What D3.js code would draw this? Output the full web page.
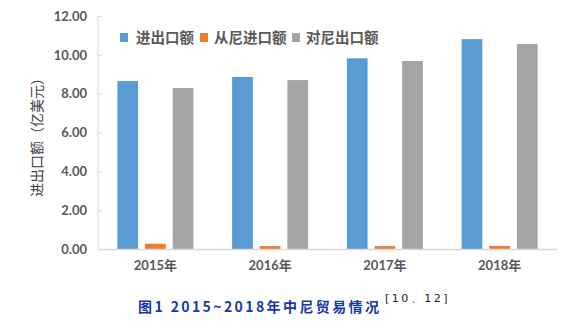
<!DOCTYPE html>
<html><head><meta charset="utf-8">
<script src="https://cdn.jsdelivr.net/npm/d3@7/dist/d3.min.js"></script>
<style>body{margin:0;background:#fff}</style>
</head><body><svg id="c" width="565" height="332"></svg>
<script>
const categories = ["2015年", "2016年", "2017年", "2018年"];
const seriesNames = ["进出口额", "从尼进口额", "对尼出口额"];
const totalTrade = [8.65, 8.86, 9.82, 10.81];
const importsFromNepal = [0.27, 0.15, 0.15, 0.16];
const exportsToNepal = [8.29, 8.70, 9.68, 10.56];
const yTicks = [0, 2, 4, 6, 8, 10, 12];
const colors = ["#5B9BD5", "#ED7D31", "#A5A5A5"];
const series = [totalTrade, importsFromNepal, exportsToNepal];

(function () {
const svg = d3.select("#c");
const mLeft = 98, mRight = 557, mTop = 16, mBottom = 249;
const x = d3.scaleBand().domain(categories).range([mLeft, mRight]).padding(0);
const y = d3.scaleLinear().domain([0, 12]).range([mBottom, mTop]);
const xs = d3.scaleBand().domain(d3.range(3)).range([-38, 38]).paddingInner(0.25).paddingOuter(0);
const labelFont = "Lato, 'Noto Sans CJK SC', sans-serif";
const cjk = "'Noto Sans CJK SC', sans-serif";

// y axis
const ya = svg.append("g").attr("transform", `translate(${mLeft},0)`)
  .call(d3.axisLeft(y).tickValues(yTicks).tickSize(-4).tickPadding(11).tickFormat(d3.format(".2f")));
ya.select(".domain").attr("stroke", "#D9D9D9").attr("d", `M0,${mTop}V${mBottom}`);
ya.selectAll(".tick line").attr("stroke", "#D9D9D9");
ya.selectAll(".tick text").attr("fill", "#595959").attr("font-size", 13).attr("font-weight", "bold").attr("font-family", labelFont);

// x axis
const xa = svg.append("g").attr("transform", `translate(0,${mBottom})`)
  .call(d3.axisBottom(x).tickSize(0).tickPadding(12));
xa.select(".domain").attr("stroke", "#D9D9D9").attr("stroke-width", 1.5);
xa.selectAll(".tick text").attr("fill", "#595959").attr("font-size", 13).attr("font-weight", "bold").attr("font-family", labelFont);

// bars
series.forEach((vals, si) => {
  svg.append("g").selectAll("rect").data(vals).join("rect")
    .attr("x", (d, i) => x(categories[i]) + x.bandwidth() / 2 + xs(si))
    .attr("width", xs.bandwidth())
    .attr("y", d => y(d))
    .attr("height", d => mBottom - y(d))
    .attr("fill", colors[si]);
});
xa.raise();

// legend
const legendX = [120, 200, 292];
seriesNames.forEach((n, i) => {
  const g = svg.append("g").attr("transform", `translate(${legendX[i]},33)`);
  g.append("rect").attr("width", 8).attr("height", 9).attr("fill", colors[i]);
  g.append("text").attr("x", i === 0 ? 16 : 14).attr("y", 10).text(n)
    .attr("font-family", cjk).attr("font-size", 14.5).attr("font-weight", "bold").attr("fill", "#595959");
});

// y title
svg.append("text").attr("transform", "translate(42,134) rotate(-90)").attr("text-anchor", "middle")
  .attr("font-family", cjk).attr("font-size", 14).attr("fill", "#404040").text("进出口额（亿美元）");

// caption
svg.append("text").attr("x", 138).attr("y", 312).attr("font-family", cjk)
  .attr("font-size", 14).attr("font-weight", "bold").attr("fill", "#1637B0").attr("letter-spacing", 2.4)
  .text("图1 2015~2018年中尼贸易情况");
svg.append("text").attr("x", 385).attr("y", 302).attr("font-family", "'DejaVu Sans', sans-serif")
  .attr("font-size", 11).attr("fill", "#222").attr("letter-spacing", 2.5).text("[10、12]");
})();
</script></body></html>
